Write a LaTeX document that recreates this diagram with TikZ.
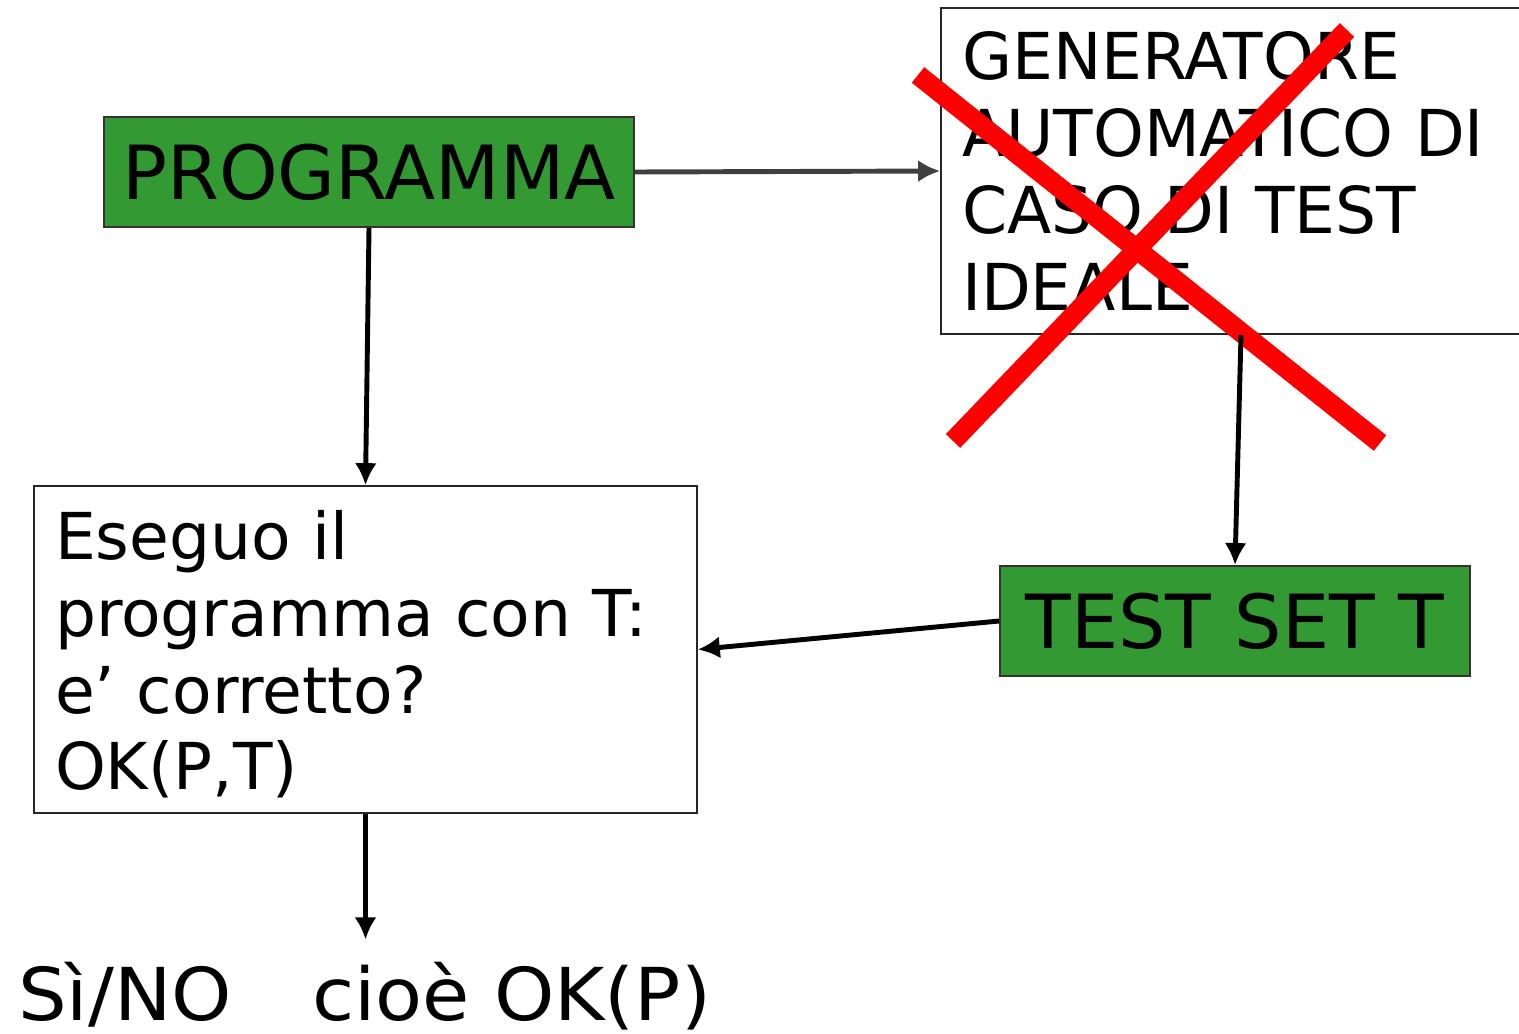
\documentclass[tikz,border=0pt]{standalone}
\usepackage{fontspec}
\setmainfont{DejaVu Sans}
\newfontfamily\condensed[FakeStretch=1.17]{DejaVu Sans Condensed}
\usetikzlibrary{arrows.meta}
\definecolor{verde}{RGB}{51,153,51}
\begin{document}
\begin{tikzpicture}[x=0.02cm, y=-0.02cm, >={Latex[length=0.44cm,width=0.44cm]},
  verdebox/.style={draw=black!80, line width=1.1pt, fill=verde, minimum height=2.2cm, font=\fontsize{42.5}{50}\selectfont},
  testobox/.style={draw=black!85, line width=1pt, fill=white, align=left, inner xsep=0.42cm, font=\fontsize{36.8}{43.7}\selectfont},
  freccia/.style={->, line width=2.8pt}]
\useasboundingbox (0,0) rectangle (1519,1034);
\node[verdebox, minimum width=10.6cm] (programma) at (369,172) {PROGRAMMA};
\node[testobox, text width=11.16cm, minimum height=6.52cm] (generatore) at (1241,171)
  {GENERATORE\\AUTOMATICO DI\\CASO DI TEST\\IDEALE};
\node[testobox, text width=12.42cm, minimum height=6.54cm] (esegui) at (365.5,649.5)
  {\rule{0pt}{1.18cm}Eseguo il\\programma con T:\\e’ corretto?\\OK(P,T)};
\node[verdebox, minimum width=9.4cm] (testset) at (1235,621) {TEST SET T};
\node[anchor=base west, font=\condensed\fontsize{41.5}{48}\selectfont] (esito) at (12,1020)
  {Sì/NO\hspace{1.1em}cioè OK(P)};
% la croce rossa sul generatore
\draw[red, line width=11.3pt](918,75)--(1380,443);
\draw[red, line width=11.3pt](1347,30)--(953,441);
\draw[freccia, black!75](programma.east)--(generatore.west);
\draw[freccia](programma.south)--(esegui.north);
\draw[freccia](generatore.south)--(testset.north);
\draw[freccia](testset.west)--(esegui.east);
\draw[freccia, shorten >=0.32cm](esegui.south)--(esegui.south |- esito.north);
\end{tikzpicture}
\end{document}
